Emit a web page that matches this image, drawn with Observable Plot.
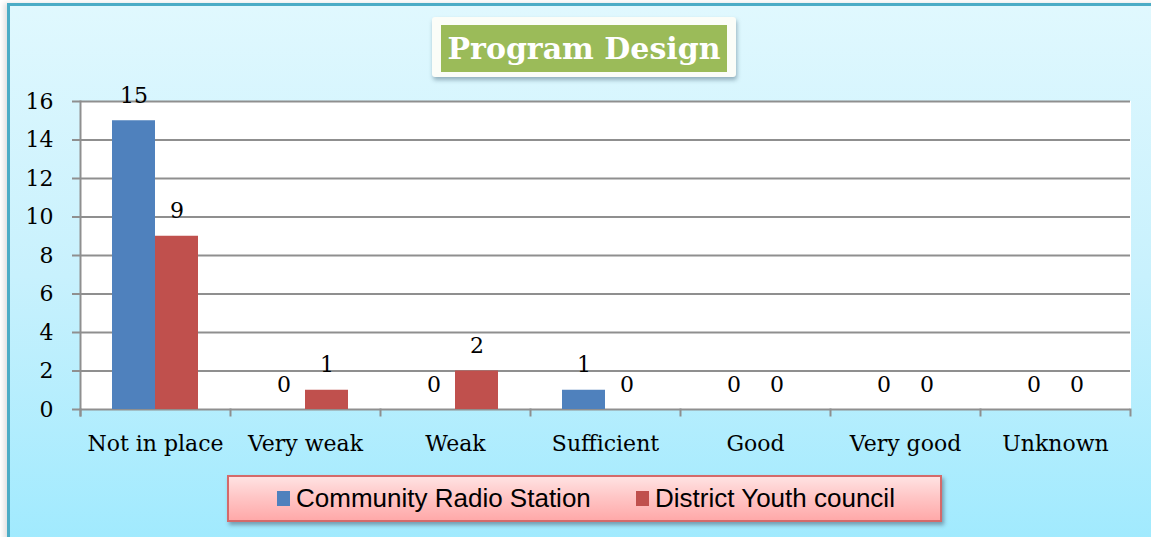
<!DOCTYPE html>
<html>
<head>
<meta charset="utf-8">
<script src="https://cdn.jsdelivr.net/npm/d3@7"></script>
<script src="https://cdn.jsdelivr.net/npm/@observablehq/plot@0.6"></script>
<style>
  html, body { margin: 0; padding: 0; background: #ffffff; }
  #wrap { position: relative; width: 1151px; height: 537px; overflow: hidden; background: #fff; }
  #panel {
    position: absolute; left: 7px; top: 3px; width: 1160px; height: 540px;
    border-left: 3px solid #4BACC6; border-top: 3px solid #4BACC6;
    background: linear-gradient(to bottom, #e0f8fe 0%, #c8f1fd 50%, #a0eafe 100%);
    box-shadow: -3px 0 5px rgba(0,0,0,0.12);
  }
  #chart { position: absolute; left: 0; top: 0; }
  #title-outer {
    position: absolute; left: 432px; top: 17px; width: 304px; height: 60px;
    background: #fbfdf8; border-radius: 3px;
    box-shadow: 1px 3px 4px rgba(60,90,110,0.45);
  }
  #title {
    position: absolute; left: 9px; top: 8px; width: 286px; height: 47px;
    background: #9BBB59; color: #fff;
    font-family: "DejaVu Serif", serif; font-weight: bold; font-size: 30px;
    display: flex; align-items: center; justify-content: center; white-space: nowrap;
  }
  #legend {
    position: absolute; left: 227px; top: 475px; width: 711px; height: 43px;
    border: 2px solid #d46a6a;
    background: linear-gradient(to bottom, #ffe2e2 0%, #ffc4c4 50%, #ffa9a9 100%);
    box-shadow: 2px 3px 4px rgba(60,60,80,0.45);
    font-family: "Liberation Sans", Arial, sans-serif; font-size: 26px; color: #000;
  }
  .item { position: absolute; top: 0; height: 43px; display: flex; align-items: center; white-space: nowrap; }
  .sw { width: 13px; height: 15px; margin-right: 6px; }
</style>
</head>
<body>
<div id="wrap">
  <div id="panel"></div>
  <div id="chart"></div>
  <div id="title-outer"><div id="title">Program Design</div></div>
  <div id="legend"></div>
</div>
<script>
const categories = ["Not in place", "Very weak", "Weak", "Sufficient", "Good", "Very good", "Unknown"];
const series = ["Community Radio Station", "District Youth council"];
const radioValues = [15, 0, 0, 1, 0, 0, 0];
const youthValues = [9, 1, 2, 0, 0, 0, 0];
const yTicks = [0, 2, 4, 6, 8, 10, 12, 14, 16];
const colors = ["#4F81BD", "#C0504D"];

const data = categories.flatMap((c, i) => [
  {category: c, series: series[0], value: radioValues[i]},
  {category: c, series: series[1], value: youthValues[i]}
]);

const gridColor = "#8f8f8f";

const chart = Plot.plot({
  width: 1151,
  height: 537,
  marginTop: 101,
  marginBottom: 128,
  marginLeft: 79,
  marginRight: 21,
  style: {background: "transparent", fontFamily: "'DejaVu Serif', serif", fontSize: "22px", color: "#000"},
  fx: {domain: categories, padding: 0, label: null},
  x: {domain: series, paddingInner: 0, paddingOuter: 0.744, axis: null},
  y: {domain: [0, 16], label: null},
  color: {domain: series, range: colors},
  marks: [
    Plot.frame({fill: "white", stroke: "white", strokeWidth: 1}),
    Plot.gridY(yTicks, {stroke: gridColor, strokeOpacity: 1, strokeWidth: 2}),
    Plot.frame({anchor: "left", facetAnchor: "left", stroke: gridColor, strokeWidth: 2, insetBottom: -6}),
    Plot.frame({anchor: "left", stroke: gridColor, strokeWidth: 2, insetTop: 308, insetBottom: -6}),
    Plot.frame({anchor: "right", facetAnchor: "right", stroke: gridColor, strokeWidth: 2, insetTop: 308, insetBottom: -6}),
    Plot.axisY(yTicks, {tickSize: 8, tickPadding: 19, stroke: gridColor, strokeWidth: 2, fontSize: 22, label: null}),
    Plot.barY(data, {fx: "category", x: "series", y: "value", fill: "series"}),
    Plot.text(data, {fx: "category", x: "series", y: "value", text: d => String(d.value), dy: -25, lineAnchor: "middle", fontSize: 22, fill: "#000"}),
    Plot.axisFx({anchor: "bottom", tickSize: 0, tickPadding: 26, fontSize: 22, label: null})
  ]
});
document.getElementById("chart").appendChild(chart);

const legend = document.getElementById("legend");
const lefts = [48, 407];
series.forEach((s, i) => {
  const item = document.createElement("div");
  item.className = "item";
  item.style.left = lefts[i] + "px";
  const sw = document.createElement("div");
  sw.className = "sw";
  sw.style.background = colors[i];
  const t = document.createElement("span");
  t.textContent = s;
  item.appendChild(sw);
  item.appendChild(t);
  legend.appendChild(item);
});
</script>
</body>
</html>
